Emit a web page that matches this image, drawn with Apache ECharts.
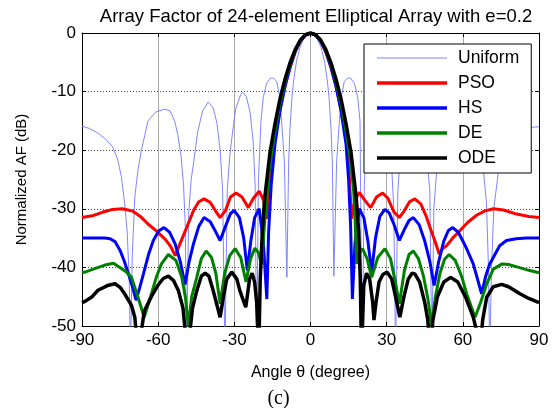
<!DOCTYPE html>
<html><head><meta charset="utf-8">
<script src="https://cdn.jsdelivr.net/npm/echarts@6/dist/echarts.min.js"></script>
<style>html,body{margin:0;padding:0;background:#fff}#c{width:557px;height:408px}</style>
</head><body><div id="c"></div>
<script>
const xTicks = [-90, -60, -30, 0, 30, 60, 90];
const yTicks = [-50, -40, -30, -20, -10, 0];
const seriesNames = ['Uniform', 'PSO', 'HS', 'DE', 'ODE'];

const uniformAngle = [-90,-87,-84,-81,-78,-76,-74.5,-73.2,-72.2,-71.4,-70.9,-70.2,-69.2,-68,-66.6,-64,-61,-57.5,-55.3,-53.5,-52.2,-51,-50,-49.3,-48.8,-48,-47,-46,-44.5,-42.5,-40.3,-38.3,-36.8,-35.6,-34.6,-33.7,-32.8,-31.8,-31,-29.5,-27.5,-26.7,-25.3,-23.8,-22.6,-21.8,-21.2,-20.5,-19.5,-18.6,-17.3,-15.8,-14.6,-13.3,-12.3,-11.3,-10.3,-9.3,-8.6,-8.1,-7.3,-6.6,-5.5,-4.2,-2.5,0,2.5,4.2,5.5,6.6,7.3,8.1,8.6,9.2,10.3,11.3,12.3,13.3,14.6,15.8,17.3,18.6,19.5,20.3,21.2,22,23.3,25,26.5,27.5,29.5,31,32,32.8,33.5,34.4,35.5,36.8,38.3,40.3,42.5,44.5,46,47,47.8,48.6,49.6,51,53,55.5,57.5,61,64,66.5,68,69.3,70.1,70.6,71.3,72.2,73.9,75.5,78,81,84,87,90];
const uniformDB = [-15.9,-16.3,-17,-18,-19.4,-21.5,-24.5,-29,-34,-42,-55,-38,-28,-23.5,-20,-15,-13.5,-13,-13.3,-15,-17.5,-21,-26,-33,-55,-31,-25,-22,-17,-13.3,-11.8,-12.8,-15.5,-20,-27,-55,-27,-21,-18,-13,-10.5,-10.1,-10.8,-13.5,-18.5,-26,-55,-25,-15,-11,-8.6,-7.7,-7.7,-8.3,-10.5,-15.5,-22,-41.7,-22,-16.5,-11,-8,-4.8,-2.5,-0.8,0,-0.8,-2.5,-4.8,-8,-11,-16.5,-22,-41.5,-22,-15.5,-10.5,-8.3,-7.7,-7.7,-8.6,-11,-15,-55,-26,-18.5,-13.5,-10.8,-10.1,-10.5,-13,-18,-23,-30,-55,-27,-20,-15.5,-12.8,-11.8,-13.3,-17,-22,-27,-55,-30,-24,-18.5,-14.8,-13.2,-13,-13.6,-15.2,-19.5,-23,-29,-40,-55,-40,-30,-24,-20.5,-18.5,-17.3,-16.6,-16.1,-16];

const psoAngle = [-90,-86,-82,-78,-74,-70,-67,-64,-60.6,-57,-55,-53.3,-50.5,-48.7,-46,-44,-41.9,-39.5,-37.5,-35.6,-33.5,-31.5,-29.3,-27,-24.5,-22.5,-20.2,-18.5,-17.2,-16.5,-15.5,-14,-12,-10,-8,-6,-4,-2,0,2,4,6,8,10,12,14,15.2,16.2,17.5,19.2,21.5,23.7,26,28.4,30.5,32.8,35,37,39,41.1,43.5,45.5,47,49,50.7,52,53.6,56,58.9,62,65.4,68.5,72,76,81.2,86,90];
const psoDB = [-31.5,-31.2,-30.6,-30.1,-30,-30.4,-31.3,-32.6,-33.8,-35.3,-36.5,-38,-35,-33.1,-30.2,-28.8,-28.3,-28.9,-30.3,-31.5,-30.3,-28,-27.3,-28,-29.8,-28.2,-27,-28.5,-31.7,-28,-23,-18,-13,-9,-5.8,-3.2,-1.4,-0.35,0,-0.35,-1.4,-3.2,-5.8,-9,-13,-18,-24,-31.7,-28.5,-27.2,-28.6,-29.8,-28,-27.3,-28.2,-30.5,-31.5,-30.3,-28.8,-28.3,-29.2,-31.2,-33.1,-35.5,-37.7,-36.8,-36.3,-35,-33.7,-32.3,-31.1,-30.4,-30,-30.2,-30.9,-31.3,-31.5];

const hsAngle = [-90,-85,-81,-78.9,-77,-75,-73.3,-71.7,-70,-68.7,-67.3,-65.8,-63.8,-61.9,-59.8,-57.7,-55.5,-53.3,-51.3,-49.4,-47.8,-46.1,-44,-41.9,-39.5,-37.5,-35.6,-33.5,-31.5,-30,-28,-26.3,-24.9,-23.5,-22,-20.2,-18.6,-17.2,-16.5,-15.5,-14,-12,-10,-8,-6,-4,-2,0,2,4,6,8,10,12,14,15,15.8,16.5,17.5,19.2,21,22.6,24.1,25.6,27.3,29.3,31,33,35,37,38.8,40.5,42.8,45,47,48.7,50.5,52.5,54.3,56,58.2,60,61.5,64.1,67.4,69,70.5,72,74.5,77.2,81,85,90];
const hsDB = [-35,-35,-35,-35.1,-35.6,-37.1,-39,-41.1,-43.5,-45.6,-43.5,-41.1,-37.8,-35.4,-33.8,-33.2,-34,-36,-39,-42.9,-39,-36,-33,-31.5,-32.2,-33.8,-35.4,-33,-30.8,-30.3,-31.5,-35,-40.5,-35.5,-31.5,-30,-35.5,-45.4,-34,-26,-19,-13.2,-9,-5.7,-3.1,-1.4,-0.35,0,-0.35,-1.4,-3.1,-5.7,-9,-13.2,-19,-25,-33,-45.4,-36,-30,-31.5,-35.5,-40.8,-35,-31.3,-30.1,-30.7,-32.8,-35.4,-33.5,-32,-31.5,-32.7,-35.5,-39,-43.1,-39,-35.5,-33.7,-33.2,-34,-35.5,-36.8,-39.4,-44.5,-41.5,-39.5,-38.3,-36.3,-35.4,-35.1,-35,-35];

const deAngle = [-90,-88.8,-85,-81,-77.6,-74.5,-72.5,-70.5,-68,-65.5,-63,-60.6,-58.7,-56,-53,-50.7,-49.3,-48.1,-46.8,-44.8,-43,-41.1,-39,-37.3,-35.6,-33.8,-31.8,-29.7,-27.5,-25.4,-23.6,-21.9,-20.5,-19.2,-18.2,-17,-16,-14,-12,-10,-8,-6,-4,-2,0,2,4,6,8,10,12,14,16,17,17.5,18.2,19.3,20.5,22.3,24.1,26.5,29.3,31.5,33.2,35,37,38.8,40.5,42.5,44.5,46.3,47.7,49.2,51,52.8,54.6,57,59.5,61.5,64.8,67,69.4,72,75.5,78,82,86,90];
const deDB = [-40.9,-40.8,-40.2,-39.6,-39.3,-40.2,-40.8,-41.7,-45,-48.5,-45,-41.5,-39.4,-37.8,-38.8,-41.7,-45,-50,-45,-41.7,-38.5,-37.2,-38.3,-41,-46.2,-41,-38,-36.8,-38.3,-42.5,-38.5,-36.7,-37.5,-39.5,-33,-27,-22.5,-16.8,-12,-8.3,-5.3,-3,-1.3,-0.3,0,-0.3,-1.3,-3,-5.3,-8.3,-12,-16.8,-22.5,-27,-31,-39.4,-37.5,-36.8,-38.5,-41.7,-38.3,-36.8,-38.5,-42,-46.2,-40.5,-37.8,-37.2,-38.5,-41.5,-45.5,-50,-45,-41,-38.6,-37.8,-38.8,-41.5,-44.5,-48.5,-46,-42.8,-40.3,-39.4,-39.5,-40,-40.5,-40.9];

const odeAngle = [-90,-88.8,-86,-83.7,-80,-77,-75,-73.2,-70.5,-69.2,-67.9,-65.5,-62.7,-60,-58,-56,-54,-52,-50.2,-48.5,-46.5,-44.8,-43,-41.5,-40,-38.3,-36.8,-35.6,-34.3,-33,-31,-29,-27.8,-25.5,-24,-23,-22,-21.2,-20.4,-19.8,-19,-18,-16,-14,-12,-10,-8,-6,-4,-2,0,2,4,6,8,10,12,14,16,18,19,19.6,20.1,21,22.1,23.3,24.5,25,25.8,27,28.5,30.2,32,33.5,35.2,36.8,38.5,40,41.1,43,45,46.2,47.2,48.2,50,52.5,55.2,58,61,64.1,65.5,66.7,67.8,69.4,72,75.3,78,82.5,86,90];
const odeDB = [-46,-45.8,-45,-43.9,-43.1,-42.8,-43.4,-44.5,-46.5,-48.5,-55,-47.5,-45,-43,-41.9,-41.5,-42.2,-44,-47,-55,-47,-44,-41.5,-41,-41.5,-44,-46.5,-48.5,-45,-42,-40.8,-42,-44,-46.8,-42,-41,-42.5,-46,-55,-42,-34,-28,-20.5,-15.5,-11.2,-7.8,-5,-2.8,-1.2,-0.3,0,-0.3,-1.2,-2.8,-5,-7.8,-11.2,-15.5,-20.5,-28,-34,-42,-55,-43,-41,-42,-46,-49,-46,-42.5,-41.2,-40.8,-42,-45,-48.5,-45,-42,-41,-41.1,-42.5,-46,-49,-55,-49,-45,-42.5,-41.7,-42.5,-45,-48.5,-51,-55,-49,-45.1,-43.3,-42.9,-43.3,-44.5,-45.3,-46];

const pairs = (a, b) => a.map((v, i) => [v, b[i]]);
const FONT = '"Liberation Sans", Arial, sans-serif';
const thinIcon = 'path://M0,0H70V1H0Z';
const thickIcon = 'path://M0,0H70V3.5H0Z';

const chart = echarts.init(document.getElementById('c'), null, {renderer: 'canvas'});
const mkLine = (name, a, b, color, width) => ({
  name, type: 'line', data: pairs(a, b), showSymbol: false, symbol: 'none',
  smooth: false, clip: true, animation: false,
  lineStyle: {color, width}, itemStyle: {color}
});
chart.setOption({
  animation: false,
  backgroundColor: '#fff',
  title: {
    text: 'Array Factor of 24-element Elliptical Array with e=0.2',
    left: 311, top: 2, textAlign: 'center',
    textStyle: {fontFamily: FONT, fontSize: 18.5, fontWeight: 'normal', color: '#000'}
  },
  grid: {left: 82, right: 18, top: 33, bottom: 82, containLabel: false},
  legend: {
    orient: 'vertical', left: 364, top: 44,
    data: seriesNames.map((n, i) => ({name: n, icon: i === 0 ? thinIcon : thickIcon})),
    itemWidth: 70, itemHeight: 14, itemGap: 7,
    symbolKeepAspect: true,
    padding: [5, 12, 6, 13],
    backgroundColor: '#fff', borderColor: '#000', borderWidth: 1,
    textStyle: {fontFamily: FONT, fontSize: 17.5, lineHeight: 17, color: '#000', padding: [0, 0, 0, 6]},
    selectedMode: false
  },
  xAxis: [{
    type: 'value', min: -90, max: 90, interval: 30, position: 'bottom',
    name: 'Angle θ (degree)', nameLocation: 'middle', nameGap: 39,
    nameTextStyle: {fontFamily: FONT, fontSize: 16, color: '#000'},
    axisLine: {onZero: false, lineStyle: {color: '#000', width: 1}},
    axisTick: {inside: true, length: 4, lineStyle: {color: '#000'}},
    axisLabel: {fontFamily: FONT, fontSize: 17, color: '#000', margin: 6,
      formatter: v => xTicks.includes(v) ? String(v) : ''},
    splitLine: {show: true, lineStyle: {color: '#aaa', width: 1}}
  }, {
    type: 'value', min: -90, max: 90, interval: 30, position: 'top',
    axisLine: {onZero: false, lineStyle: {color: '#000'}},
    axisTick: {inside: true, length: 4, lineStyle: {color: '#000'}},
    axisLabel: {show: false}, splitLine: {show: false}
  }],
  yAxis: [{
    type: 'value', min: -50, max: 0, interval: 10, position: 'left',
    name: 'Normalized AF (dB)', nameLocation: 'middle', nameGap: 53,
    nameTextStyle: {fontFamily: FONT, fontSize: 15, color: '#000'},
    axisLine: {onZero: false, show: true, lineStyle: {color: '#000'}},
    axisTick: {show: true, inside: true, length: 4, lineStyle: {color: '#000'}},
    axisLabel: {fontFamily: FONT, fontSize: 17, color: '#000', margin: 6,
      formatter: v => yTicks.includes(v) ? String(v) : ''},
    splitLine: {show: true, lineStyle: {color: '#444', width: 1, type: [1, 2]}}
  }, {
    type: 'value', min: -50, max: 0, interval: 10, position: 'right',
    axisLine: {onZero: false, show: true, lineStyle: {color: '#000'}},
    axisTick: {show: true, inside: true, length: 4, lineStyle: {color: '#000'}},
    axisLabel: {show: false}, splitLine: {show: false}
  }],
  graphic: [{
    type: 'text', left: 'center', top: 389,
    style: {text: '(c)', font: '20px "Liberation Serif", "Times New Roman", serif', fill: '#000'}
  }],
  series: [
    mkLine('Uniform', uniformAngle, uniformDB, '#7f86ff', 1),
    mkLine('PSO', psoAngle, psoDB, '#ff0000', 3),
    mkLine('HS', hsAngle, hsDB, '#0000ff', 3),
    mkLine('DE', deAngle, deDB, '#008000', 3),
    mkLine('ODE', odeAngle, odeDB, '#000000', 3.5)
  ]
});
</script></body></html>
